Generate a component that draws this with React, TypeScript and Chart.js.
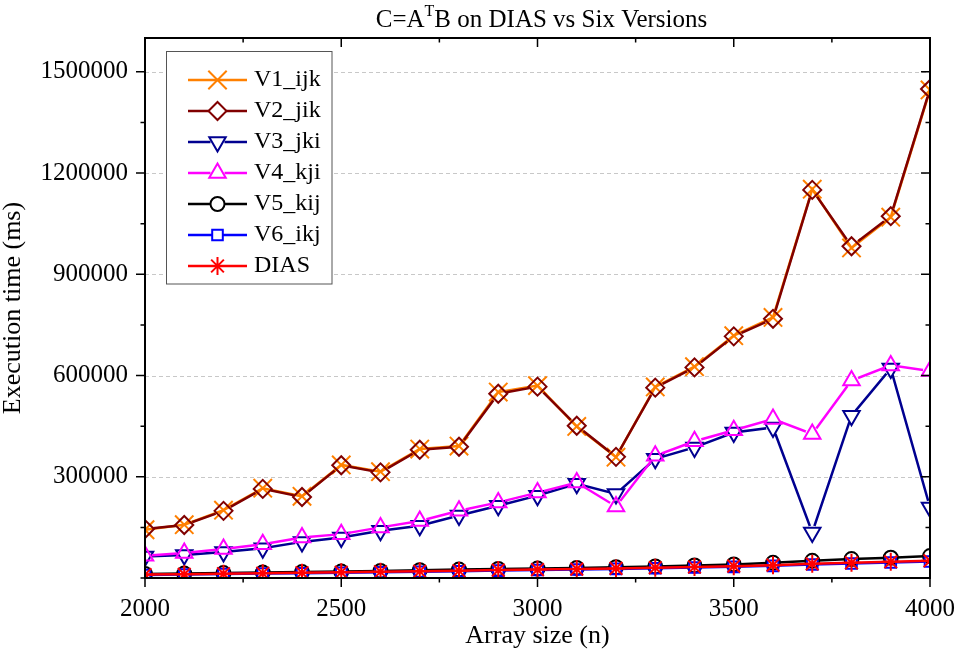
import React, { useEffect, useRef } from 'react';
import { Chart, registerables, PointElement } from 'chart.js';

Chart.register(...registerables);

// ---------- data ----------
const arraySizes = [2000, 2100, 2200, 2300, 2400, 2500, 2600, 2700, 2800, 2900, 3000, 3100, 3200, 3300, 3400, 3500, 3600, 3700, 3800, 3900, 4000];

const v1Ijk = [143000, 158000, 201000, 266000, 242000, 335000, 315000, 382000, 391000, 551000, 570000, 449000, 358000, 566000, 626000, 718000, 772000, 1152000, 978000, 1069000, 1446000];
const v2Jik = [145000, 157000, 199000, 264000, 240000, 334000, 313000, 380000, 389000, 546000, 567000, 451000, 359000, 564000, 624000, 716000, 768000, 1150000, 983000, 1072000, 1449000];
const v3Jki = [64000, 68000, 77000, 88000, 107000, 120000, 140000, 155000, 185000, 214000, 244000, 279000, 249000, 353000, 387000, 431000, 446000, 135000, 481000, 621000, 209000];
const v4Kji = [66000, 74000, 86000, 100000, 120000, 130000, 150000, 169000, 199000, 224000, 253000, 283000, 212000, 362000, 405000, 438000, 471000, 427000, 585000, 630000, 613000];
const v5Kij = [12000, 13000, 14500, 16000, 17500, 19000, 21000, 23000, 25000, 27000, 28000, 30000, 32000, 34000, 37000, 40000, 45000, 51000, 56000, 60000, 65000];
const v6Ikj = [9000, 10000, 11500, 13000, 14000, 15500, 17000, 18500, 20000, 22000, 23500, 25000, 27000, 29000, 31000, 33000, 36000, 40000, 43000, 46000, 49000];
const dias = [10000, 11000, 12500, 14000, 15500, 17000, 18500, 20000, 21500, 23500, 25000, 26500, 28500, 30500, 32500, 35000, 38000, 42000, 45000, 48000, 51000];

const seriesLabels = ['V1_ijk', 'V2_jik', 'V3_jki', 'V4_kji', 'V5_kij', 'V6_ikj', 'DIAS'];
const seriesValues = [v1Ijk, v2Jik, v3Jki, v4Kji, v5Kij, v6Ikj, dias];

const xTicks = [2000, 2250, 2500, 2750, 3000, 3250, 3500, 3750, 4000];
const xMajorTicks = [2000, 2500, 3000, 3500, 4000];
const yTicks = [0, 150000, 300000, 450000, 600000, 750000, 900000, 1050000, 1200000, 1350000, 1500000];
const yMajorTicks = [300000, 600000, 900000, 1200000, 1500000];

const titleLead = 'C=A';
const titleSup = 'T';
const titleTail = 'B on DIAS vs Six Versions';
const xTitle = 'Array size (n)';
const yTitle = 'Execution time (ms)';

// ---------- styles ----------
const FONT = '"Liberation Serif", "Times New Roman", serif';
const seriesStyles = [
  { color: '#FF8000', pointStyle: 'crossRot', radius: 13, rotation: 0, gap: 0 },
  { color: '#800000', pointStyle: 'rectRot', radius: 9, rotation: 0, gap: 8.5 },
  { color: '#000090', pointStyle: 'triangle', radius: 9.5, rotation: 180, gap: 7 },
  { color: '#FF00FF', pointStyle: 'triangle', radius: 9.5, rotation: 0, gap: 7 },
  { color: '#000000', pointStyle: 'circle', radius: 7, rotation: 0, gap: 7 },
  { color: '#0000FF', pointStyle: 'rect', radius: 7.5, rotation: 0, gap: 5.5 },
  { color: '#FF0000', pointStyle: 'star', radius: 9, rotation: 0, gap: 0 },
];

const datasets: any[] = [];
seriesValues.forEach((vals, i) => {
  const st = seriesStyles[i];
  const pts = arraySizes.map((x, j) => ({ x, y: vals[j] }));
  datasets.push({
    label: seriesLabels[i],
    data: pts,
    borderColor: st.color,
    borderWidth: 2.5,
    pointRadius: 0,
    pointHoverRadius: 0,
    showLine: true,
    fill: false,
    tension: 0,
    order: 100 - 2 * i,
    clip: 0,
    gapRadius: st.gap,
  });
  datasets.push({
    label: seriesLabels[i] + ' markers',
    data: pts,
    showLine: false,
    borderColor: st.color,
    backgroundColor: 'rgba(0,0,0,0)',
    pointStyle: st.pointStyle,
    pointRadius: st.radius,
    pointHoverRadius: st.radius,
    pointRotation: st.rotation,
    pointBorderColor: st.color,
    pointBackgroundColor: 'rgba(0,0,0,0)',
    pointBorderWidth: 2,
    order: 99 - 2 * i,
    clip: 0,
  });
});

const originPlugin = {
  id: 'originStyle',
  beforeDatasetsDraw(chart: any) {
    const { ctx, chartArea } = chart;
    const ys = chart.scales.y;
    ctx.save();
    ctx.strokeStyle = '#c8c8c8';
    ctx.lineWidth = 1;
    ctx.setLineDash([4, 3]);
    yMajorTicks.forEach((v) => {
      const y = Math.round(ys.getPixelForValue(v)) + 0.5;
      ctx.beginPath();
      ctx.moveTo(chartArea.left, y);
      ctx.lineTo(chartArea.right, y);
      ctx.stroke();
    });
    ctx.restore();
  },
  beforeDatasetDraw(chart: any, args: any) {
    const ds = chart.data.datasets[args.index];
    const g = ds.gapRadius;
    const { ctx } = chart;
    ctx.save();
    if (g && g > 0) {
      ctx.beginPath();
      ctx.rect(0, 0, chart.width, chart.height);
      args.meta.data.forEach((p: any) => {
        ctx.moveTo(p.x + g, p.y);
        ctx.arc(p.x, p.y, g, 0, Math.PI * 2);
      });
      ctx.clip('evenodd');
    }
  },
  afterDatasetDraw(chart: any) {
    chart.ctx.restore();
  },
  afterDatasetsDraw(chart: any) {
    const { ctx, chartArea } = chart;
    const { left, right, top, bottom } = chartArea;
    const xs = chart.scales.x;
    const ys = chart.scales.y;
    ctx.save();
    ctx.strokeStyle = '#000';
    ctx.setLineDash([]);
    ctx.lineWidth = 1.5;
    xTicks.forEach((v) => {
      const x = xs.getPixelForValue(v);
      const len = xMajorTicks.includes(v) ? 9 : 4.5;
      ctx.beginPath();
      ctx.moveTo(x, bottom);
      ctx.lineTo(x, bottom + len);
      ctx.moveTo(x, top);
      ctx.lineTo(x, top + len);
      ctx.stroke();
    });
    yTicks.forEach((v) => {
      const y = ys.getPixelForValue(v);
      const len = yMajorTicks.includes(v) ? 9 : 4.5;
      ctx.beginPath();
      ctx.moveTo(left, y);
      ctx.lineTo(left - len, y);
      ctx.moveTo(right, y);
      ctx.lineTo(right - len, y);
      ctx.stroke();
    });
    ctx.lineWidth = 2;
    ctx.strokeRect(left, top, right - left, bottom - top);
    ctx.restore();
  },
  afterDraw(chart: any) {
    const { ctx, chartArea } = chart;
    const { left, top, right } = chartArea;
    ctx.save();
    // title with superscript
    ctx.fillStyle = '#000';
    ctx.textBaseline = 'alphabetic';
    ctx.textAlign = 'left';
    const mainFont = `25px ${FONT}`;
    const supFont = `16px ${FONT}`;
    ctx.font = mainFont;
    const w1 = ctx.measureText(titleLead).width;
    const w3 = ctx.measureText(titleTail).width;
    ctx.font = supFont;
    const w2 = ctx.measureText(titleSup).width;
    const total = w1 + w2 + w3;
    let tx = (left + right) / 2 + 4 - total / 2;
    const baseY = top - 11;
    ctx.font = mainFont;
    ctx.fillText(titleLead, tx, baseY);
    tx += w1;
    ctx.font = supFont;
    ctx.fillText(titleSup, tx, baseY - 11);
    tx += w2;
    ctx.font = mainFont;
    ctx.fillText(titleTail, tx, baseY);

    // legend
    const bx = left + 21.5;
    const by = top + 13.5;
    const bw = 165.5;
    const bh = 232.5;
    ctx.fillStyle = '#fff';
    ctx.fillRect(bx, by, bw, bh);
    ctx.strokeStyle = '#555';
    ctx.lineWidth = 1;
    ctx.strokeRect(bx, by, bw, bh);
    const lx0 = left + 43;
    const lx1 = left + 102;
    const mx = left + 72.5;
    const textX = left + 109;
    seriesLabels.forEach((label, i) => {
      const st = seriesStyles[i];
      const y = top + 42 + i * 31;
      const g = st.gap;
      ctx.strokeStyle = st.color;
      ctx.lineWidth = 2.5;
      ctx.beginPath();
      ctx.moveTo(lx0, y);
      ctx.lineTo(mx - g, y);
      ctx.moveTo(mx + g, y);
      ctx.lineTo(lx1, y);
      ctx.stroke();
      const pe: any = new (PointElement as any)({
        x: mx,
        y,
        options: {
          pointStyle: st.pointStyle,
          radius: st.radius,
          rotation: st.rotation,
          borderWidth: 2,
          borderColor: st.color,
          backgroundColor: 'rgba(0,0,0,0)',
        },
      });
      pe.draw(ctx);
      ctx.fillStyle = '#000';
      ctx.font = `24px ${FONT}`;
      ctx.textBaseline = 'middle';
      ctx.textAlign = 'left';
      ctx.fillText(label, textX, y);
    });
    ctx.restore();
  },
};

export default function App() {
  const ref = useRef<HTMLCanvasElement>(null);
  useEffect(() => {
    const chart = new Chart(ref.current as HTMLCanvasElement, {
      type: 'line',
      data: { datasets },
      options: {
        responsive: false,
        animation: false,
        events: [],
        layout: { padding: { left: 0, right: 29, top: 38, bottom: 0 } },
        plugins: {
          legend: { display: false },
          title: { display: false },
          tooltip: { enabled: false },
        },
        scales: {
          x: {
            type: 'linear',
            min: 2000,
            max: 4000,
            afterBuildTicks: (s: any) => {
              s.ticks = xTicks.map((v) => ({ value: v }));
            },
            afterFit: (s: any) => {
              s.height = 77;
              s.paddingLeft = 0;
              s.paddingRight = 0;
            },
            grid: { display: false, drawTicks: false },
            border: { display: false },
            ticks: {
              autoSkip: false,
              maxRotation: 0,
              padding: 16,
              color: '#000',
              font: { family: FONT, size: 25 },
              callback: (v: any) => (xMajorTicks.includes(Number(v)) ? String(v) : ''),
            },
            title: {
              display: true,
              text: xTitle,
              color: '#000',
              font: { family: FONT, size: 26, lineHeight: 1 },
              padding: { top: 0, bottom: 6 },
            },
          },
          y: {
            type: 'linear',
            min: 0,
            max: 1600000,
            afterBuildTicks: (s: any) => {
              s.ticks = yTicks.map((v) => ({ value: v }));
            },
            afterFit: (s: any) => {
              s.width = 145;
              s.paddingTop = 0;
              s.paddingBottom = 0;
            },
            grid: { display: false, drawTicks: false },
            border: { display: false },
            ticks: {
              autoSkip: false,
              padding: 17,
              color: '#000',
              font: { family: FONT, size: 25 },
              callback: (v: any) => (yMajorTicks.includes(Number(v)) ? String(v) : ''),
            },
            title: {
              display: true,
              text: yTitle,
              color: '#000',
              font: { family: FONT, size: 26, lineHeight: 1 },
              padding: { top: 0, bottom: 0 },
            },
          },
        },
      } as any,
      plugins: [originPlugin as any],
    });
    return () => chart.destroy();
  }, []);
  return (
    <div style={{ position: 'fixed', left: 0, top: 0, width: 959, height: 655, background: '#fff' }}>
      <canvas ref={ref} width={959} height={655} style={{ display: 'block', width: 959, height: 655 }} />
    </div>
  );
}
